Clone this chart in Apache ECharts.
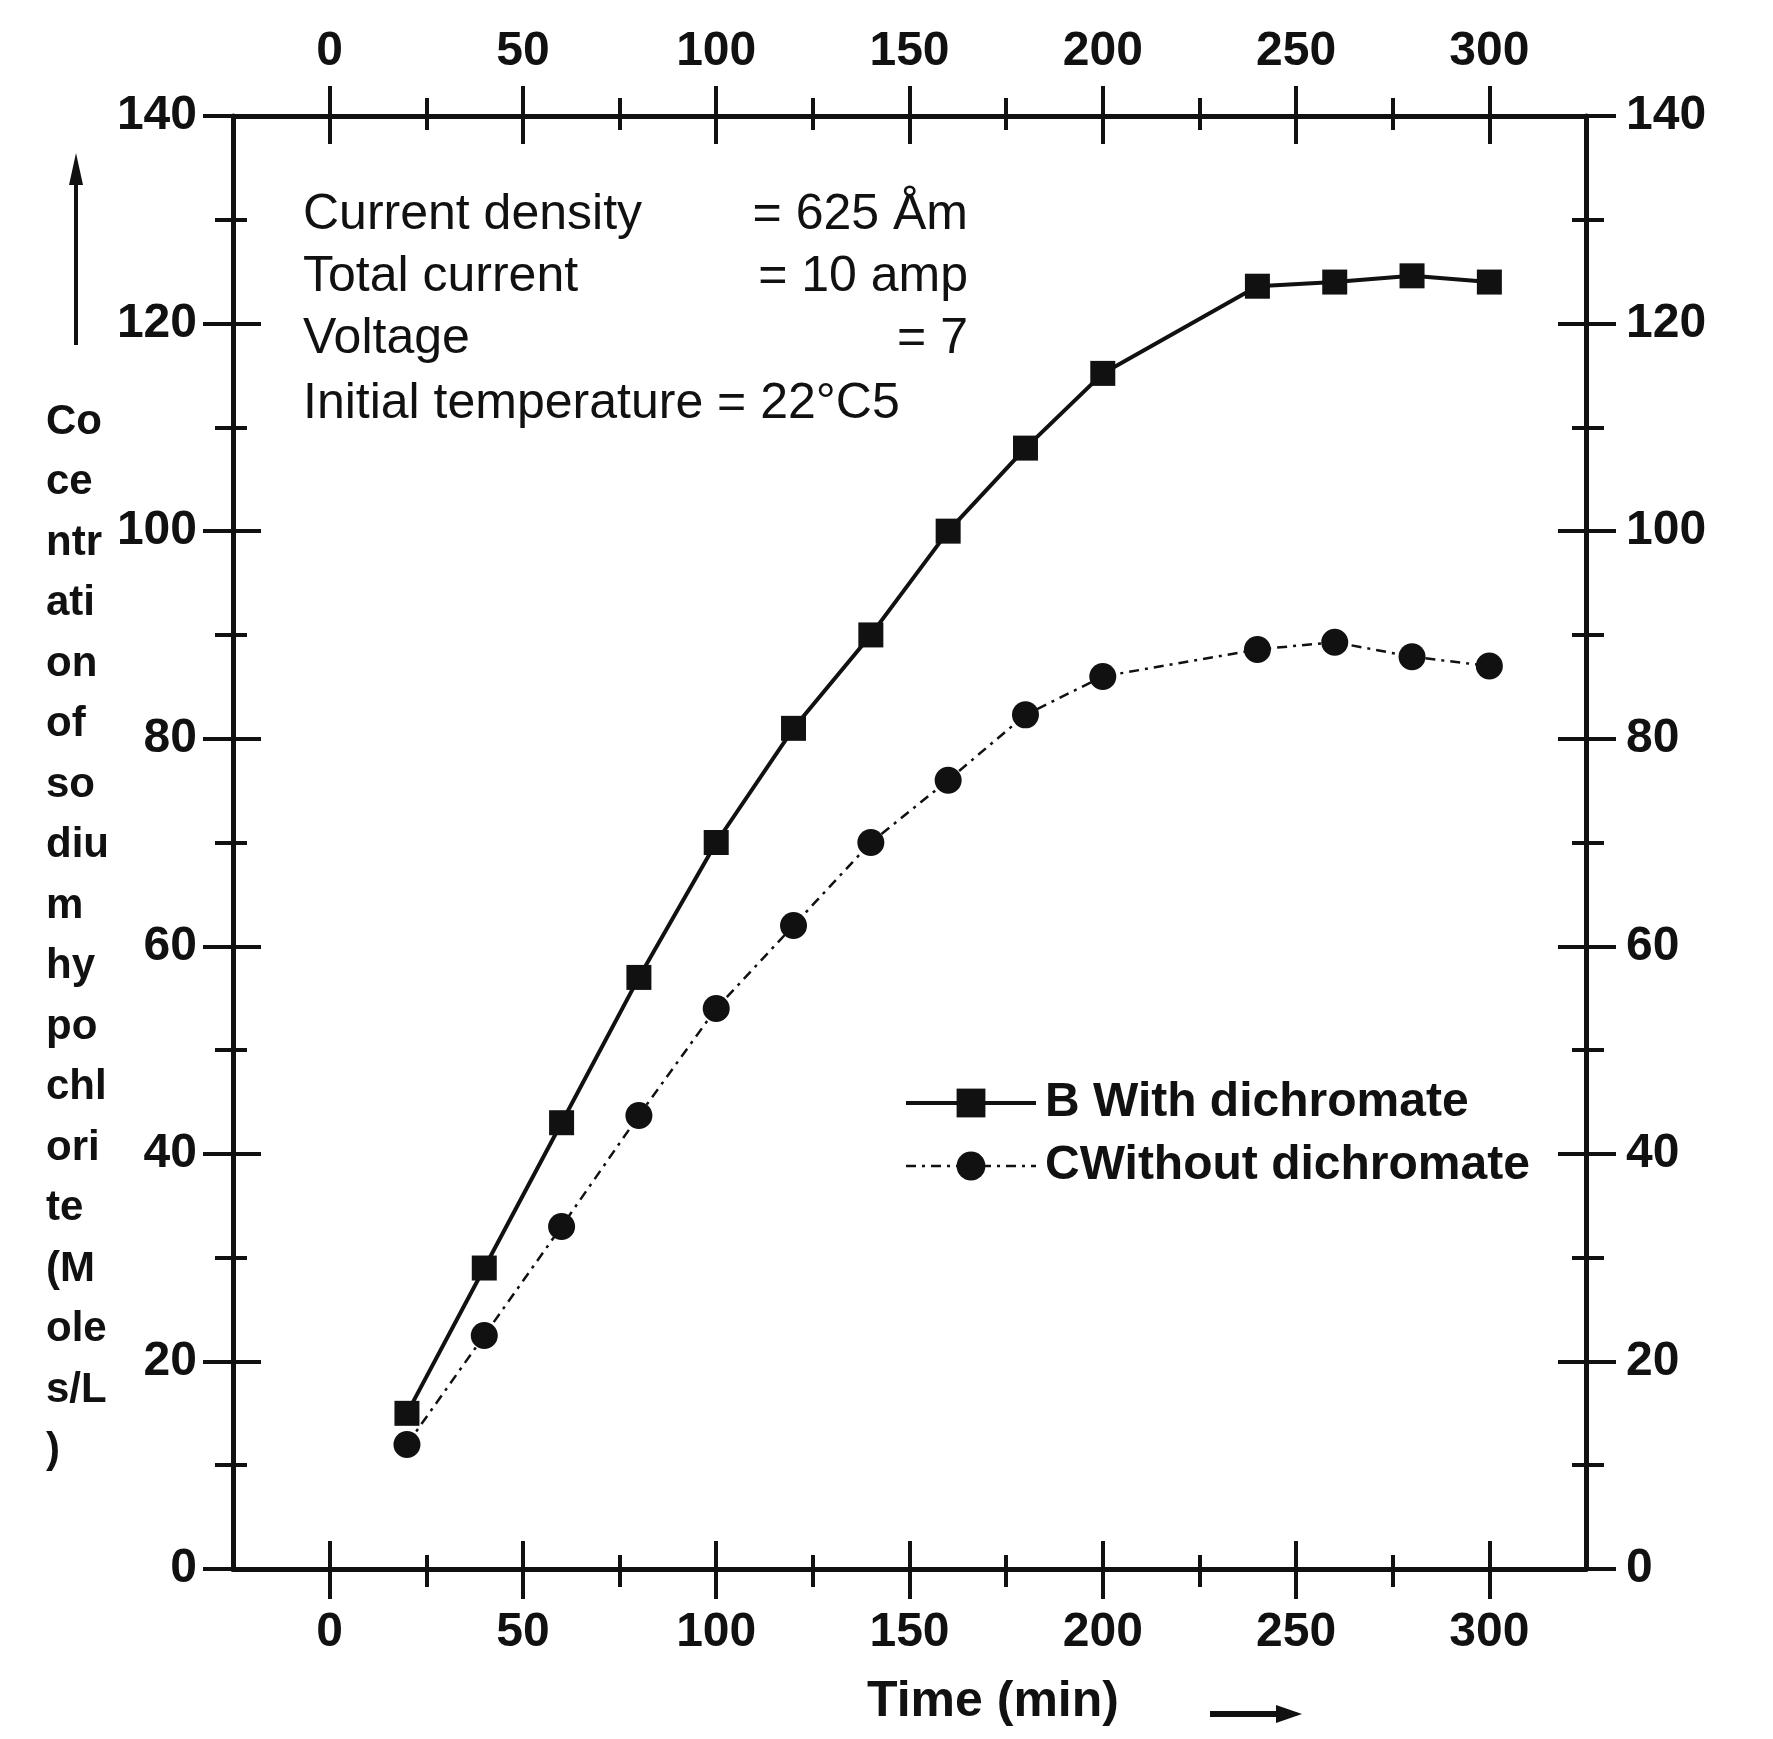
<!DOCTYPE html>
<html>
<head>
<meta charset="utf-8">
<script src="https://cdn.jsdelivr.net/npm/echarts@6/dist/echarts.min.js"></script>
<style>
  html, body { margin: 0; padding: 0; background: #fff; }
  #Charts { width: 1773px; height: 1739px; }
</style>
</head>
<body>
<div id="Charts"></div>
<script>
// values
const timeMin = [20, 40, 60, 80, 100, 120, 140, 160, 180, 200, 240, 260, 280, 300];
const withDichromate = [15, 29, 43, 57, 70, 81, 90, 100, 108, 115.2, 123.6, 124, 124.6, 124];
const withoutDichromate = [12, 22.5, 33, 43.7, 54, 62, 70, 76, 82.3, 86, 88.6, 89.3, 87.9, 87];

const xMajorTicks = [0, 50, 100, 150, 200, 250, 300];
const xMinorTicks = [25, 75, 125, 175, 225, 275];
const yMajorTicks = [0, 20, 40, 60, 80, 100, 120, 140];
const yMinorTicks = [10, 30, 50, 70, 90, 110, 130];

const seriesNames = ['B With dichromate', 'CWithout dichromate'];
const yLabelParts = ['Co', 'ce', 'ntr', 'ati', 'on', 'of', 'so', 'diu', 'm', 'hy', 'po', 'chl', 'ori', 'te', '(M', 'ole', 's/L', ')'];
const notes = [
  ['Current density', '= 625 Åm'],
  ['Total current', '= 10 amp'],
  ['Voltage', '= 7']
];
const noteTemp = 'Initial temperature = 22°C5';

const FONT = '"Liberation Sans Narrow", "Arial Narrow", "Liberation Sans", sans-serif';
const INK = '#111';

function makeAxis(kind, position, ticks, inside, len, withLabel, withLine) {
  const isX = kind === 'x';
  return {
    type: 'value',
    position: position,
    min: isX ? -25 : 0,
    max: isX ? 325 : 140,
    splitLine: { show: false },
    axisLine: { show: withLine, onZero: false, lineStyle: { color: INK, width: 5 } },
    axisTick: {
      show: true, inside: inside, length: len, customValues: ticks,
      lineStyle: { color: INK, width: 4 }
    },
    axisLabel: {
      show: withLabel, customValues: ticks,
      margin: isX ? 40 : (position === 'left' ? 36 : 40),
      color: INK, fontFamily: FONT, fontWeight: 'bold', fontSize: 48
    }
  };
}

function sideAxes(kind, position) {
  const major = kind === 'x' ? xMajorTicks : yMajorTicks;
  const minor = kind === 'x' ? xMinorTicks : yMinorTicks;
  return [
    makeAxis(kind, position, major, false, 30, true, true),
    makeAxis(kind, position, minor, false, 18, false, false),
    makeAxis(kind, position, major, true, 28, false, false),
    makeAxis(kind, position, minor, true, 14, false, false)
  ];
}

let chart = echarts.init(document.getElementById('Charts'));

let yLabelText = yLabelParts.join('\n');

let option = {
  animation: false,
  backgroundColor: '#fff',
  grid: { left: 233, right: 187, top: 116, bottom: 170, containLabel: false, outerBoundsMode: 'none' },
  xAxis: sideAxes('x', 'bottom').concat(sideAxes('x', 'top')),
  yAxis: sideAxes('y', 'left').concat(sideAxes('y', 'right')),
  legend: {
    orient: 'vertical',
    left: 899,
    top: 1074,
    itemWidth: 130,
    itemHeight: 36,
    itemGap: 15,
    data: seriesNames,
    lineStyle: { width: 'inherit' },
    textStyle: { color: INK, fontFamily: FONT, fontWeight: 'bold', fontSize: 48, padding: [0, 0, 0, 4] }
  },
  series: [
    {
      name: seriesNames[0],
      type: 'line',
      symbol: 'rect',
      symbolSize: 25,
      lineStyle: { color: INK, width: 4 },
      itemStyle: { color: INK },
      data: timeMin.map((t, i) => [t, withDichromate[i]])
    },
    {
      name: seriesNames[1],
      type: 'line',
      symbol: 'circle',
      symbolSize: 27,
      lineStyle: { color: INK, width: 2.5, type: [10, 6, 3, 6] },
      itemStyle: { color: INK },
      data: timeMin.map((t, i) => [t, withoutDichromate[i]])
    }
  ],
  graphic: [
    {
      type: 'text', left: 46, top: 392,
      style: { text: yLabelText, fill: INK, font: 'bold 42px ' + FONT, lineHeight: 60.5 }
    },
    // upward arrow beside y label
    { type: 'line', shape: { x1: 76, y1: 345, x2: 76, y2: 180 }, style: { stroke: INK, lineWidth: 4 } },
    { type: 'polygon', shape: { points: [[76, 153], [69, 185], [83, 185]] }, style: { fill: INK } },
    // x axis title and arrow
    {
      type: 'text', x: 993, y: 1702,
      style: { text: 'Time (min)', fill: INK, font: 'bold 50px ' + FONT, align: 'center', verticalAlign: 'middle' }
    },
    { type: 'line', shape: { x1: 1210, y1: 1714, x2: 1280, y2: 1714 }, style: { stroke: INK, lineWidth: 6 } },
    { type: 'polygon', shape: { points: [[1302, 1714], [1276, 1705], [1276, 1723]] }, style: { fill: INK } }
  ].concat(
    notes.map((n, i) => ({
      type: 'text', x: 303, y: 215 + i * 62,
      style: { text: n[0], fill: INK, font: '50px ' + FONT, verticalAlign: 'middle' }
    })),
    notes.map((n, i) => ({
      type: 'text', x: 968, y: 215 + i * 62,
      style: { text: n[1], fill: INK, font: '50px ' + FONT, align: 'right', verticalAlign: 'middle' }
    })),
    [{
      type: 'text', x: 303, y: 404,
      style: { text: noteTemp, fill: INK, font: '50px ' + FONT, verticalAlign: 'middle' }
    }]
  )
};

chart.setOption(option);
</script>
</body>
</html>
